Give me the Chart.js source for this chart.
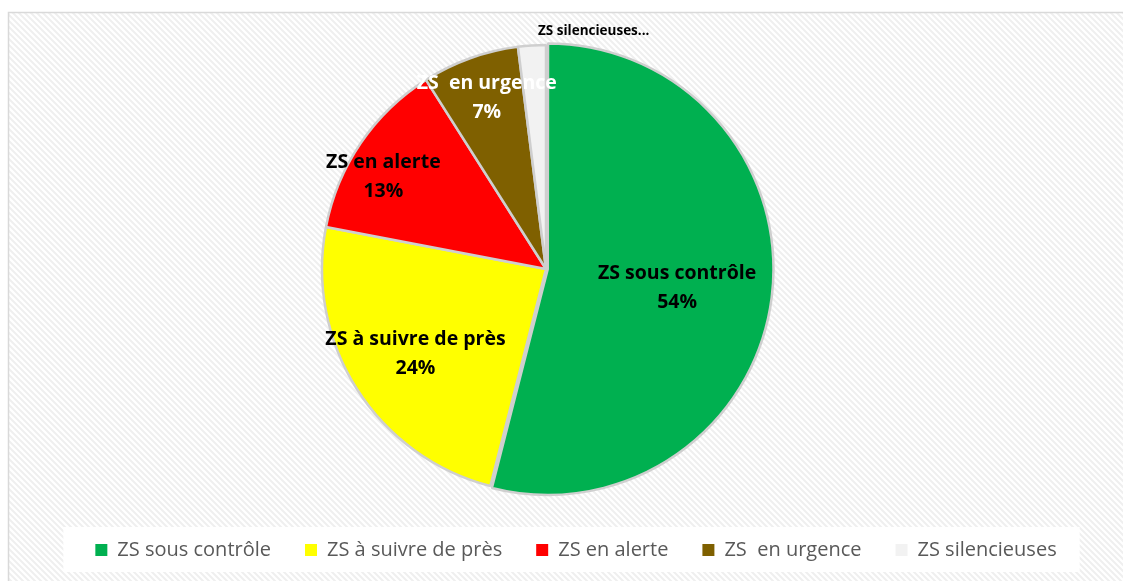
<!DOCTYPE html>
<html>
<head>
<meta charset="utf-8">
<script src="https://cdn.jsdelivr.net/npm/chart.js@4"></script>
<style>
html,body{margin:0;padding:0;background:#fff;}
#wrap{width:1123px;height:581px;position:relative;}
</style>
</head>
<body>
<div id="wrap"><canvas id="c" width="1123" height="581"></canvas></div>
<script>
const categories = ["ZS sous contrôle", "ZS à suivre de près", "ZS en alerte", "ZS  en urgence", "ZS silencieuses"];
const values = [54, 24, 13, 7, 2];
const sliceLabels = ["ZS sous contrôle", "ZS à suivre de près", "ZS en alerte", "ZS  en urgence", "ZS silencieuses..."];
const colors = ["#00B050", "#FFFF00", "#FF0000", "#7F6000", "#F2F2F2"];
const labelColors = ["#000000", "#000000", "#000000", "#FFFFFF", "#000000"];
const labelRadius = [0.59, 0.69, 0.84, 0.82, 1.07];
const labelAngleShift = [0, 0, -4, 1, 0];
const showPercent = [true, true, true, true, false];

const LABEL_FONT = "'Open Sans', Lato, sans-serif";
const LEGEND_FONT = "'Open Sans', Lato, sans-serif";

const bgPlugin = {
  id: 'bg',
  beforeDraw(chart) {
    const ctx = chart.ctx;
    const pc = document.createElement('canvas');
    pc.width = 6; pc.height = 6;
    const p = pc.getContext('2d');
    p.fillStyle = '#ffffff'; p.fillRect(0,0,6,6);
    p.strokeStyle = '#efefef'; p.lineWidth = 2;
    p.beginPath();
    p.moveTo(-1,-1); p.lineTo(7,7);
    p.moveTo(-7,-1); p.lineTo(1,7);
    p.moveTo(5,-1); p.lineTo(13,7);
    p.stroke();
    ctx.save();
    ctx.fillStyle = '#ffffff';
    ctx.fillRect(0,0,chart.width,chart.height);
    ctx.fillStyle = ctx.createPattern(pc, 'repeat');
    ctx.fillRect(9,13,chart.width-9,chart.height-13);
    ctx.strokeStyle = '#d9d9d9'; ctx.lineWidth = 1.5;
    ctx.beginPath();
    ctx.moveTo(8.5, chart.height+2); ctx.lineTo(8.5, 12.5); ctx.lineTo(chart.width+2, 12.5);
    ctx.stroke();
    const lg = chart.legend;
    if (lg && lg.legendHitBoxes && lg.legendHitBoxes.length) {
      const hb = lg.legendHitBoxes;
      const x0 = hb[0].left - 32;
      const last = hb[hb.length-1];
      const x1 = last.left + last.width + 23;
      const yc = hb[0].top + hb[0].height/2;
      ctx.fillStyle = '#ffffff';
      ctx.fillRect(x0, yc - 23, x1 - x0, 45);
    }
    ctx.restore();
  }
};

const labelPlugin = {
  id: 'sliceLabels',
  afterDatasetsDraw(chart) {
    const ctx = chart.ctx;
    const meta = chart.getDatasetMeta(0);
    const total = values.reduce((a,b)=>a+b,0);
    meta.data.forEach((arc, i) => {
      const {x, y, startAngle, endAngle, outerRadius} = arc.getProps(['x','y','startAngle','endAngle','outerRadius'], true);
      const mid = (startAngle + endAngle) / 2 + labelAngleShift[i] * Math.PI / 180;
      const r = outerRadius * labelRadius[i];
      const lx = x + Math.cos(mid) * r;
      const ly = y + Math.sin(mid) * r;
      ctx.save();
      ctx.fillStyle = labelColors[i];
      ctx.textBaseline = 'middle';
      if (showPercent[i]) {
        ctx.font = "bold 19.5px " + LABEL_FONT;
        ctx.textAlign = 'center';
        ctx.fillText(sliceLabels[i], lx, ly - 12);
        ctx.fillText(Math.round(values[i] / total * 100) + '%', lx, ly + 17);
      } else {
        ctx.font = "bold 13.5px " + LABEL_FONT;
        ctx.textAlign = 'left';
        ctx.fillText(sliceLabels[i], lx + 7, ly + 1);
      }
      ctx.restore();
    });
  }
};

new Chart(document.getElementById('c'), {
  type: 'pie',
  data: {
    labels: categories,
    datasets: [{
      data: values,
      backgroundColor: colors,
      borderColor: '#cfcfcf',
      borderWidth: 2.5,
      offset: [7, 0, 0, 0, 0],
      hoverOffset: 0
    }]
  },
  options: {
    responsive: false,
    animation: false,
    devicePixelRatio: 1,
    radius: 224,
    layout: { padding: { top: 32, bottom: 11, left: 29, right: 0 } },
    plugins: {
      tooltip: { enabled: false },
      title: {
        display: true,
        text: '',
        position: 'right',
        padding: 0,
        font: { size: 50, lineHeight: 1.2 }
      },
      legend: {
        position: 'bottom',
        labels: {
          boxWidth: 12,
          boxHeight: 12,
          padding: 34,
          color: '#595959',
          font: { family: LEGEND_FONT, size: 20 },
          generateLabels(chart) {
            const items = Chart.overrides.pie.plugins.legend.labels.generateLabels(chart);
            items.forEach((it, i) => { it.lineWidth = 0; it.strokeStyle = colors[i]; });
            return items;
          }
        }
      }
    }
  },
  plugins: [bgPlugin, labelPlugin]
});
</script>
</body>
</html>
